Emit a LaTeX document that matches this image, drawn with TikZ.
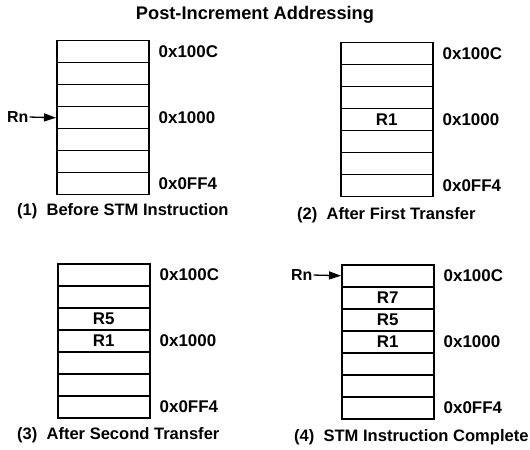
\documentclass[tikz,border=0pt]{standalone}
\usepackage{fontspec}
\setmainfont{Liberation Sans}
\usetikzlibrary{arrows.meta}
\newcommand\mylbl{\fontsize{17}{19}\selectfont\bfseries}
\newcommand\mycap{\fontsize{16.6}{19}\selectfont\bfseries}
\newcommand\myrn{\fontsize{16}{18}\selectfont\bfseries}
\newcommand\mytitle{\fontsize{18.3}{20}\selectfont\bfseries}
\begin{document}
\begin{tikzpicture}[x=1bp,y=-1bp,
  cell/.style={draw,line width=1.5bp,minimum width=92bp,minimum height=22bp,inner sep=0,anchor=north west,font=\mylbl},
  addr/.style={anchor=west,inner sep=0,font=\mylbl},
  captext/.style={anchor=west,inner sep=0,font=\mycap},
  content/.style={inner sep=0,font=\mylbl},
  rnlabel/.style={anchor=west,inner sep=0,font=\myrn},
  rnarrow/.style={line width=1.3bp,shorten <=1bp,-{Triangle[length=12bp,width=8bp]}}
]
\useasboundingbox (0,0) rectangle (530,450);
\node[font=\mytitle,inner sep=0] (title) at (255,15) {Post-Increment Addressing};
% panel 1
\foreach \i in {1,...,7} \node[cell] (p1r\i) at (56,{40+(\i-1)*22}) {};
\node[addr] (p1a1) at ([xshift=9bp]p1r1.east) {0x100C};
\node[addr] (p1a4) at ([xshift=9bp]p1r4.east) {0x1000};
\node[addr] (p1a7) at ([xshift=9bp]p1r7.east) {0x0FF4};
\node[captext] (c1) at (17,211) {(1)\ \ Before STM Instruction};
\node[rnlabel] (rn1) at (7,117) {Rn};
\draw[rnarrow] (rn1.east) -- (p1r4.west);
% panel 2
\foreach \i in {1,...,7} \node[cell] (p2r\i) at (340,{42+(\i-1)*22}) {};
\node[addr] (p2a1) at ([xshift=9bp]p2r1.east) {0x100C};
\node[addr] (p2a4) at ([xshift=9bp]p2r4.east) {0x1000};
\node[addr] (p2a7) at ([xshift=9bp]p2r7.east) {0x0FF4};
\node[content] at (p2r4) {R1};
\node[captext] (c2) at (297,215) {(2)\ \ After First Transfer};
% panel 3
\foreach \i in {1,...,7} \node[cell] (p3r\i) at (57,{263+(\i-1)*22}) {};
\node[addr] (p3a1) at ([xshift=9bp]p3r1.east) {0x100C};
\node[addr] (p3a4) at ([xshift=9bp]p3r4.east) {0x1000};
\node[addr] (p3a7) at ([xshift=9bp]p3r7.east) {0x0FF4};
\node[content] at (p3r3) {R5};
\node[content] at (p3r4) {R1};
\node[captext] (c3) at (17,435) {(3)\ \ After Second Transfer};
% panel 4
\foreach \i in {1,...,7} \node[cell] (p4r\i) at (341,{264+(\i-1)*22}) {};
\node[addr] (p4a1) at ([xshift=9bp]p4r1.east) {0x100C};
\node[addr] (p4a4) at ([xshift=9bp]p4r4.east) {0x1000};
\node[addr] (p4a7) at ([xshift=9bp]p4r7.east) {0x0FF4};
\node[content] at (p4r2) {R7};
\node[content] at (p4r3) {R5};
\node[content] at (p4r4) {R1};
\node[captext] (c4) at (294,437) {(4)\ \ STM Instruction Complete};
\node[rnlabel] (rn4) at (291,275) {Rn};
\draw[rnarrow] (rn4.east) -- (p4r1.west);
\end{tikzpicture}
\end{document}
